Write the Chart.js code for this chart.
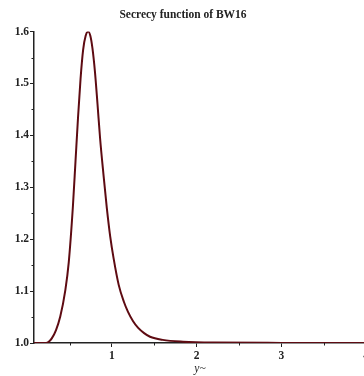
<!DOCTYPE html>
<html lang="en">
<head>
    <meta charset="UTF-8">
    <title>Secrecy function of BW16</title>
    <script src="https://cdn.jsdelivr.net/npm/chart.js"></script>
    <style>
        html, body {
            margin: 0;
            padding: 0;
            background: #ffffff;
            overflow: hidden;
        }
        #wrap {
            width: 364px;
            height: 376px;
            overflow: hidden;
        }
    </style>
</head>
<body>
    <div id="wrap">
        <canvas id="grafica" width="372" height="376"></canvas>
    </div>

    <script>
        // valores
        const yValues = [0.08, 0.15, 0.2, 0.25, 0.29, 0.34, 0.39, 0.45, 0.49, 0.54, 0.57, 0.60, 0.63, 0.66, 0.69, 0.72,
            0.745, 0.77, 0.80, 0.83, 0.86, 0.90, 0.94, 0.98, 1.02, 1.08, 1.14, 1.19, 1.25, 1.31, 1.38, 1.45, 1.6, 1.84, 2.2, 3.0, 4.0];
        const secrecy = [1, 1, 1, 1.002, 1.009, 1.025, 1.051, 1.102, 1.155, 1.265, 1.35, 1.435, 1.51, 1.565, 1.592, 1.60,
            1.592, 1.568, 1.522, 1.46, 1.395, 1.325, 1.26, 1.205, 1.163, 1.112, 1.08, 1.06, 1.042, 1.029, 1.019, 1.012,
            1.006, 1.0025, 1.0008, 1.0002, 1.0];

        const xTicks = [1, 2, 3, 4];
        const xMinorTicks = [0.5, 1.5, 2.5, 3.5];
        const yTicks = [1.0, 1.1, 1.2, 1.3, 1.4, 1.5, 1.6];
        const yMinorTicks = [1.05, 1.15, 1.25, 1.35, 1.45, 1.55];

        const serif = '"Liberation Serif", "DejaVu Serif", serif';

        // marcas menores de los ejes
        const minorTicks = {
            id: 'minorTicks',
            afterDraw(chart) {
                const ctx = chart.ctx;
                const x = chart.scales.x, y = chart.scales.y;
                ctx.save();
                ctx.strokeStyle = '#222';
                ctx.lineWidth = 1;
                ctx.beginPath();
                xMinorTicks.forEach(v => {
                    const px = Math.round(x.getPixelForValue(v)) + 0.5;
                    ctx.moveTo(px, y.bottom);
                    ctx.lineTo(px, y.bottom + 2.5);
                });
                yMinorTicks.forEach(v => {
                    const py = Math.round(y.getPixelForValue(v)) + 0.5;
                    ctx.moveTo(x.left, py);
                    ctx.lineTo(x.left - 2.5, py);
                });
                ctx.stroke();
                ctx.restore();
            }
        };

        new Chart(document.getElementById('grafica'), {
            type: 'line',
            data: {
                datasets: [{
                    data: yValues.map((v, i) => ({ x: v, y: secrecy[i] })),
                    borderColor: '#5e0b12',
                    borderWidth: 2,
                    pointRadius: 0,
                    cubicInterpolationMode: 'monotone',
                    fill: false
                }]
            },
            options: {
                responsive: false,
                animation: false,
                events: [],
                layout: { padding: { left: 0, right: 6, top: 0, bottom: 0 } },
                plugins: {
                    legend: { display: false },
                    tooltip: { enabled: false },
                    title: {
                        display: true,
                        text: 'Secrecy function of BW16',
                        color: '#222',
                        font: { family: serif, size: 11.5, weight: 'bold' },
                        padding: { top: 8.4, bottom: 9.4 }
                    }
                },
                scales: {
                    x: {
                        type: 'linear',
                        min: 0.08,
                        max: 4.0,
                        afterBuildTicks: s => { s.ticks = xTicks.map(v => ({ value: v })); },
                        afterFit: s => { s.height = 33; },
                        border: { display: true, color: '#222', width: 1.5 },
                        grid: { drawOnChartArea: false, drawTicks: true, tickLength: 4, tickColor: '#222' },
                        ticks: {
                            color: '#222',
                            padding: 2,
                            maxRotation: 0,
                            font: { family: serif, size: 11.5, weight: 'bold' },
                            callback: v => String(v)
                        },
                        title: {
                            display: true,
                            text: 'y~',
                            color: '#222',
                            padding: { top: 0, bottom: 0 },
                            font: { family: serif, size: 11.5, style: 'italic' }
                        }
                    },
                    y: {
                        type: 'linear',
                        min: 1.0,
                        max: 1.6,
                        afterBuildTicks: s => { s.ticks = yTicks.map(v => ({ value: v })); },
                        afterFit: s => { s.width = 34; },
                        border: { display: true, color: '#222', width: 1.5 },
                        grid: { drawOnChartArea: false, drawTicks: true, tickLength: 4, tickColor: '#222' },
                        ticks: {
                            color: '#222',
                            padding: 1,
                            font: { family: serif, size: 11.5, weight: 'bold' },
                            callback: v => v.toFixed(1)
                        }
                    }
                }
            },
            plugins: [minorTicks]
        });
    </script>
</body>
</html>
